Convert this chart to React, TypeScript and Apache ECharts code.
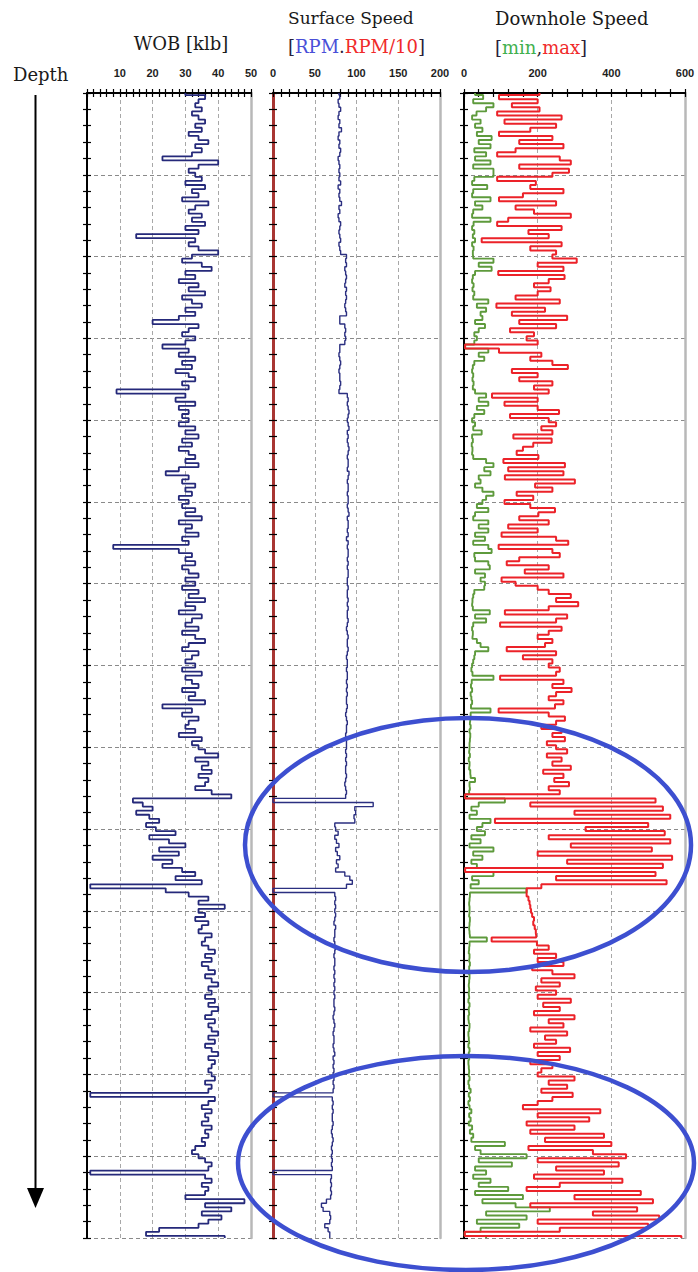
import React, { useEffect, useRef } from 'react';
import * as echarts from 'echarts';

// depth sampling step (arbitrary depth units, 14 major divisions of 100)
const depthStep = 5;

// WOB [klb]
const wob = [
  30, 36, 34, 33, 35, 32, 34, 36, 33, 35, 31, 34, 37, 33, 35, 32, 23, 40, 34, 31,
  33, 35, 30, 36, 32, 34, 29, 37, 33, 31, 35, 32, 36, 30, 34, 15, 33, 31, 34, 40,
  32, 29, 35, 38, 30, 33, 28, 34, 31, 36, 29, 32, 35, 30, 33, 28, 20, 34, 31, 29,
  33, 30, 23, 31, 28, 33, 29, 32, 27, 31, 33, 29, 31, 9, 30, 27, 33, 28, 31, 29,
  31, 28, 33, 30, 34, 29, 32, 28, 31, 33, 30, 34, 28, 24, 31, 29, 33, 30, 32, 28,
  31, 29, 33, 30, 35, 28, 32, 30, 34, 29, 31, 8, 28, 32, 30, 33, 29, 31, 34, 30,
  33, 29, 34, 31, 36, 30, 33, 28, 35, 32, 30, 34, 29, 33, 36, 31, 29, 34, 32, 30,
  33, 29, 35, 30, 32, 34, 29, 33, 31, 36, 23, 32, 29, 34, 31, 30, 33, 28, 35, 32,
  34, 36, 40, 33, 37, 35, 38, 34, 37, 36, 33, 38, 44, 14, 17, 20, 15, 19, 22, 18,
  21, 27, 19, 25, 30, 22, 28, 20, 26, 23, 29, 33, 27, 35, 1, 24, 31, 37, 34, 42,
  34, 36, 33, 37, 35, 34, 38, 36, 35, 37, 39, 36, 38, 35, 37, 39, 36, 38, 40, 37,
  38, 36, 39, 37, 40, 38, 36, 39, 37, 38, 40, 37, 39, 36, 38, 40, 37, 39, 38, 37,
  38, 39, 36, 38, 37, 1, 39, 37, 35, 38, 36, 37, 35, 38, 36, 37, 35, 36, 33, 32,
  34, 36, 38, 37, 1, 36, 38, 35, 37, 36, 30, 48, 36, 44, 35, 41, 37, 34, 22, 18,
  42,
];

// Surface speed RPM
const rpm = [
  79, 80, 78, 79, 81, 79, 78, 80, 79, 82, 79, 78, 80, 79, 81, 80, 78, 79, 80, 79,
  80, 79, 81, 78, 80, 79, 80, 82, 79, 80, 78, 79, 81, 80, 79, 80, 81, 79, 80, 81,
  88, 87, 88, 86, 87, 88, 87, 86, 88, 87, 88, 87, 86, 87, 88, 80, 80, 86, 87, 86,
  87, 86, 80, 80, 79, 80, 81, 80, 79, 80, 80, 81, 80, 79, 89, 90, 89, 90, 91, 90,
  89, 90, 91, 89, 90, 89, 90, 91, 90, 89, 90, 90, 89, 91, 90, 89, 90, 90, 89, 90,
  90, 89, 90, 91, 89, 90, 90, 89, 90, 88, 90, 89, 90, 90, 89, 90, 89, 90, 90, 89,
  89, 90, 89, 89, 90, 89, 90, 89, 89, 90, 89, 88, 89, 90, 89, 89, 90, 89, 88, 89,
  89, 88, 89, 89, 88, 89, 88, 89, 88, 88, 89, 88, 87, 88, 89, 88, 88, 87, 88, 88,
  88, 87, 88, 87, 88, 87, 87, 88, 87, 86, 87, 88, 87, 0, 120, 98, 99, 97, 98, 74,
  75, 78, 74, 76, 79, 75, 77, 80, 76, 78, 75, 86, 92, 95, 88, 0, 74, 75, 74, 75,
  74, 75, 74, 73, 75, 74, 74, 73, 74, 75, 74, 73, 74, 74, 73, 74, 73, 74, 73, 74,
  73, 74, 73, 73, 74, 73, 72, 73, 74, 73, 72, 73, 73, 72, 73, 74, 72, 73, 72, 73,
  72, 73, 72, 73, 72, 0, 71, 72, 71, 72, 71, 71, 72, 71, 70, 71, 72, 71, 70, 71,
  70, 71, 70, 71, 0, 70, 69, 70, 69, 70, 69, 64, 58, 60, 68, 69, 68, 62, 66, 68,
  68,
];

// Downhole speed, min
const dhMin = [
  30, 52, 25, 80, 60, 34, 22, 45, 30, 50, 35, 75, 40, 72, 28, 60, 30, 72, 25, 80,
  80, 28, 22, 63, 25, 22, 72, 30, 50, 25, 22, 72, 26, 22, 28, 24, 30, 22, 26, 24,
  25, 80, 40, 75, 30, 24, 22, 26, 23, 28, 25, 66, 35, 60, 45, 50, 30, 57, 40, 28,
  35, 28, 3, 66, 40, 55, 28, 24, 22, 25, 23, 26, 24, 30, 60, 40, 66, 35, 55, 28,
  22, 30, 25, 48, 22, 24, 21, 23, 22, 25, 60, 80, 55, 72, 40, 45, 30, 50, 80, 60,
  50, 35, 66, 30, 25, 66, 40, 66, 30, 57, 25, 66, 75, 28, 30, 66, 70, 30, 57, 45,
  57, 55, 28, 25, 23, 22, 24, 70, 30, 60, 25, 22, 24, 23, 35, 45, 66, 30, 28, 25,
  22, 20, 23, 80, 21, 19, 22, 18, 20, 22, 19, 72, 18, 17, 16, 18, 15, 17, 16, 15,
  15, 14, 16, 13, 15, 14, 17, 18, 30, 15, 16, 14, 3, 111, 40, 20, 35, 15, 72, 50,
  35, 57, 20, 45, 15, 80, 25, 50, 20, 35, 3, 80, 22, 40, 18, 170, 16, 15, 14, 15,
  15, 14, 16, 15, 14, 15, 16, 62, 15, 14, 13, 15, 14, 16, 14, 13, 15, 14, 13, 14,
  13, 14, 12, 15, 13, 14, 12, 13, 15, 14, 12, 13, 14, 12, 15, 13, 14, 12, 13, 14,
  13, 15, 12, 14, 18, 13, 16, 12, 15, 20, 14, 18, 13, 22, 16, 25, 20, 111, 30, 45,
  170, 40, 130, 30, 60, 25, 72, 40, 120, 30, 160, 50, 140, 233, 60, 170, 35, 150, 45, 2,
  60,
];

// Downhole speed, max
const dhMax = [
  205, 95, 200, 130, 205, 90, 265, 110, 250, 180, 95, 240, 150, 270, 140, 90, 260, 290, 150, 285,
  240, 90, 195, 180, 270, 160, 95, 250, 140, 190, 290, 120, 90, 265, 175, 230, 48, 265, 180, 250,
  240, 306, 200, 270, 93, 273, 230, 190, 235, 200, 140, 260, 88, 220, 130, 280, 150, 250, 125, 190,
  170, 200, 3, 95, 210, 180, 240, 282, 130, 200, 150, 240, 190, 230, 76, 200, 110, 200, 258, 125,
  230, 250, 210, 240, 134, 238, 188, 160, 143, 202, 107, 274, 120, 270, 111, 301, 193, 240, 143, 188,
  110, 180, 247, 202, 150, 230, 120, 200, 102, 250, 283, 94, 240, 260, 150, 116, 230, 165, 270, 102,
  140, 200, 230, 290, 250, 310, 230, 111, 280, 250, 98, 265, 230, 200, 240, 220, 116, 250, 160, 240,
  230, 260, 250, 98, 270, 240, 292, 250, 230, 270, 247, 94, 230, 274, 250, 210, 265, 240, 274, 225,
  250, 280, 225, 265, 240, 290, 215, 270, 245, 285, 230, 260, 3, 520, 180, 540, 300, 560, 84, 500,
  330, 545, 230, 560, 290, 510, 200, 565, 280, 540, 3, 520, 250, 550, 210, 170, 170, 175, 178, 180,
  182, 185, 190, 188, 192, 195, 196, 75, 198, 230, 190, 250, 200, 270, 185, 240, 300, 210, 260, 195,
  250, 200, 290, 215, 260, 190, 300, 230, 270, 180, 280, 220, 250, 190, 288, 200, 260, 180, 240, 210,
  200, 300, 230, 280, 210, 295, 240, 200, 160, 370, 200, 340, 170, 300, 180, 380, 220, 400, 175, 350,
  440, 200, 420, 250, 380, 190, 430, 260, 170, 480, 300, 513, 180, 470, 350, 530, 200, 500, 260, 2,
  590,
];

const depthCats = wob.map((_, i) => String(i * depthStep));

const wobTicks = { min: 0, max: 50, interval: 10 };
const rpmTicks = { min: 0, max: 200, interval: 50 };
const dhTicks = { min: 0, max: 600, interval: 200 };

const SERIF = '"DejaVu Serif", "Liberation Serif", serif';
const SANS = '"Liberation Sans", Arial, sans-serif';

export default function App() {
  const ref = useRef<HTMLDivElement>(null);

  useEffect(() => {
    const chart = echarts.init(ref.current!, null, { renderer: 'svg' });
    const top = 93;
    const height = 1145;
    const tracks = [
      { left: 87, width: 164, ticks: wobTicks, hideZero: true, axisColor: '#000', axisWidth: 2 },
      { left: 273, width: 167, ticks: rpmTicks, hideZero: false, axisColor: '#a83532', axisWidth: 3 },
      { left: 464, width: 221, ticks: dhTicks, hideZero: false, axisColor: '#000', axisWidth: 2 },
    ];

    const grid: any[] = [];
    const xAxis: any[] = [];
    const yAxis: any[] = [];
    tracks.forEach((t, g) => {
      grid.push({ left: t.left, top, width: t.width, height, containLabel: false });
      xAxis.push({
        gridIndex: g, type: 'value', position: 'top',
        min: t.ticks.min, max: t.ticks.max, interval: t.ticks.interval,
        axisLine: { show: true, onZero: false, lineStyle: { color: '#000', width: 2 } },
        axisTick: { show: true, length: 4, lineStyle: { color: '#000', width: 1.2 } },
        minorTick: { show: true, splitNumber: 5, length: 4, lineStyle: { color: '#000', width: 1.2 } },
        axisLabel: {
          show: true, margin: 15, color: '#1e1e1e', fontSize: 11, fontWeight: 'bold', fontFamily: SANS,
          formatter: (v: number) => (t.hideZero && v === 0 ? '' : String(v)),
        },
        splitLine: { show: true, lineStyle: { color: '#a8a8a8', type: [4, 3], width: 1 } },
      });
      xAxis.push({
        gridIndex: g, type: 'value', position: 'top',
        min: t.ticks.min, max: t.ticks.max, interval: t.ticks.interval,
        axisLine: { show: false, onZero: false },
        axisTick: { show: true, inside: true, length: 4, lineStyle: { color: '#000', width: 1.2 } },
        minorTick: { show: true, splitNumber: 5, length: 4, lineStyle: { color: '#000', width: 1.2 } },
        axisLabel: { show: false },
        splitLine: { show: false },
      });
      yAxis.push({
        gridIndex: g, type: 'category', data: depthCats, inverse: true, boundaryGap: false, position: 'left',
        axisLine: { show: true, onZero: false, lineStyle: { color: t.axisColor, width: t.axisWidth } },
        axisTick: { show: true, length: 4, interval: (i: number) => i % 4 === 0, lineStyle: { color: '#000', width: 1.2 } },
        axisLabel: { show: false },
        splitLine: { show: true, interval: (i: number) => i % 20 === 0, lineStyle: { color: '#8a8a8a', type: [4, 3], width: 1 } },
      });
      yAxis.push({
        gridIndex: g, type: 'category', data: depthCats, inverse: true, boundaryGap: false, position: 'left',
        axisLine: { show: false, onZero: false },
        axisTick: { show: true, inside: true, length: 4, interval: (i: number) => i % 4 === 0, lineStyle: { color: '#000', width: 1.2 } },
        axisLabel: { show: false },
        splitLine: { show: false },
      });
      yAxis.push({
        gridIndex: g, type: 'category', data: depthCats, inverse: true, boundaryGap: false, position: 'right',
        axisLine: { show: true, onZero: false, lineStyle: { color: '#b8b8b8', width: 2.5 } },
        axisTick: { show: false },
        axisLabel: { show: false },
        splitLine: { show: false },
      });
    });

    const toPairs = (arr: number[]) => arr.map((v, i) => [v, i]);
    const lineSeries = (name: string, data: number[], xi: number, yi: number, color: string, width: number, z: number) => ({
      name, type: 'line', xAxisIndex: xi, yAxisIndex: yi, data: toPairs(data),
      step: 'middle', showSymbol: false, symbol: 'none', z,
      lineStyle: { color, width }, itemStyle: { color },
    });

    const option: any = {
      animation: false,
      backgroundColor: '#ffffff',
      grid, xAxis, yAxis,
      series: [
        lineSeries('WOB', wob, 0, 0, '#25297a', 1.8, 3),
        lineSeries('RPM', rpm, 2, 3, '#2b2f80', 1.4, 3),
        lineSeries('min', dhMin, 4, 6, '#5e9a3c', 1.9, 3),
        lineSeries('max', dhMax, 4, 6, '#ec2229', 2, 4),
      ],
      graphic: [
        { type: 'text', x: 13, y: 74, style: { text: 'Depth', font: `18px ${SERIF}`, fill: '#1a1a1a', textAlign: 'left', textVerticalAlign: 'middle' } },
        { type: 'text', x: 181, y: 43, style: { text: 'WOB [klb]', font: `18px ${SERIF}`, fill: '#1a1a1a', textAlign: 'center', textVerticalAlign: 'middle' } },
        { type: 'text', x: 288, y: 18, style: { text: 'Surface Speed', font: `17px ${SERIF}`, fill: '#1a1a1a', textAlign: 'left', textVerticalAlign: 'middle' } },
        {
          type: 'text', x: 288, y: 46,
          style: {
            text: '{d|[}{b|RPM}{d|.}{r|RPM/10}{d|]}', font: `18px ${SERIF}`, textAlign: 'left', textVerticalAlign: 'middle',
            rich: {
              d: { fill: '#2a1f3a', font: `18px ${SERIF}` },
              b: { fill: '#4a4fd8', font: `18px ${SERIF}` },
              r: { fill: '#f02a2a', font: `18px ${SERIF}` },
            },
          },
        },
        { type: 'text', x: 495, y: 18, style: { text: 'Downhole Speed', font: `18px ${SERIF}`, fill: '#1a1a1a', textAlign: 'left', textVerticalAlign: 'middle' } },
        {
          type: 'text', x: 495, y: 47,
          style: {
            text: '{d|[}{g|min}{d|,}{r|max}{d|]}', font: `18px ${SERIF}`, textAlign: 'left', textVerticalAlign: 'middle',
            rich: {
              d: { fill: '#2a1f3a', font: `18px ${SERIF}` },
              g: { fill: '#3fb04e', font: `18px ${SERIF}` },
              r: { fill: '#f02a2a', font: `18px ${SERIF}` },
            },
          },
        },
        { type: 'line', shape: { x1: 35.5, y1: 95, x2: 35.5, y2: 1192 }, style: { stroke: '#000', lineWidth: 2 } },
        { type: 'polygon', shape: { points: [[27, 1188], [44, 1188], [35.5, 1208]] }, style: { fill: '#000' } },
        { type: 'ellipse', z: 100, shape: { cx: 468, cy: 845, rx: 223, ry: 127 }, style: { fill: 'none', stroke: '#3d4fd0', lineWidth: 4.5 } },
        { type: 'ellipse', z: 100, shape: { cx: 466, cy: 1163, rx: 228, ry: 107 }, style: { fill: 'none', stroke: '#3d4fd0', lineWidth: 4.5 } },
      ],
    };
    chart.setOption(option);
    return () => chart.dispose();
  }, []);

  return <div ref={ref} style={{ position: 'fixed', left: 0, top: 0, width: 698, height: 1272 }} />;
}
